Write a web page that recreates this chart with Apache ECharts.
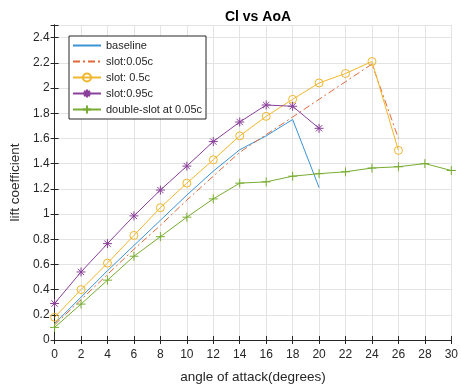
<!DOCTYPE html>
<html><head><meta charset="utf-8">
<script src="https://cdn.jsdelivr.net/npm/echarts@6/dist/echarts.min.js"></script>
<style>html,body{margin:0;padding:0;background:#fff}#c{width:461px;height:389px}</style>
</head><body><div id="c"></div>
<script>
const angles = [0,2,4,6,8,10,12,14,16,18,20,22,24,26,28,30];
const xTicks = [0,2,4,6,8,10,12,14,16,18,20,22,24,26,28,30];
const yTicks = [0,0.2,0.4,0.6,0.8,1,1.2,1.4,1.6,1.8,2,2.2,2.4];
const baseline = [0.13,0.34,0.55,0.75,0.95,1.15,1.34,1.51,1.62,1.75,1.21];
const slot005 = [0.12,0.32,0.52,0.72,0.91,1.11,1.30,1.49,1.63,1.77,1.91,2.05,2.19,1.60];
const slot05 = [0.18,0.40,0.61,0.83,1.05,1.245,1.43,1.62,1.775,1.91,2.04,2.115,2.21,1.505];
const slot095 = [0.29,0.54,0.765,0.985,1.19,1.38,1.575,1.73,1.865,1.855,1.68];
const doubleSlot = [0.10,0.285,0.475,0.665,0.82,0.975,1.12,1.245,1.255,1.30,1.32,1.335,1.365,1.375,1.40,1.345];
const names = ['baseline','slot:0.05c','slot: 0.5c','slot:0.95c','double-slot at 0.05c'];

function pairs(vals){ return vals.map((v,i)=>[angles[i],v]); }
const FONT = '"Liberation Sans", Arial, sans-serif';
const AX = '#262626';
const PLUS = 'path://M0,-5L0,5M-5,0L5,0';
const STAR = 'path://M0,-5L0,5M-5,0L5,0M-3.5,-3.5L3.5,3.5M-3.5,3.5L3.5,-3.5';
const CLEAR = 'rgba(0,0,0,0)';

function mk(name, data, color, extra){
  return Object.assign({
    name, type:'line', data:pairs(data), xAxisIndex:0, yAxisIndex:0,
    symbol:'circle', showSymbol:false, animation:false,
    lineStyle:{color, width:1},
    itemStyle:{color:CLEAR, borderColor:CLEAR, borderWidth:0},
    emphasis:{disabled:true}
  }, extra||{});
}

const chart = echarts.init(document.getElementById('c'));
const axisCommon = {
  type:'value', min:0,
  axisLine:{show:true, lineStyle:{color:AX, width:1}},
  axisTick:{show:true, inside:true, length:4, lineStyle:{color:AX}},
  axisLabel:{color:AX, fontFamily:FONT, fontSize:12},
  nameTextStyle:{color:AX, fontFamily:FONT, fontSize:13.5}
};
chart.setOption({
  animation:false,
  backgroundColor:'#fff',
  title:{text:'Cl vs AoA', left:253, top:5, textAlign:'center',
    textStyle:{fontFamily:FONT, fontSize:14, fontWeight:'bold', color:'#000'}},
  grid:{left:52, right:6, top:25, bottom:45},
  legend:{
    orient:'vertical', left:69, top:36,
    data:names,
    backgroundColor:'#fff', borderColor:AX, borderWidth:1,
    padding:[4,4,4,3], itemGap:5, itemWidth:28, itemHeight:10,
    textStyle:{fontFamily:FONT, fontSize:11, color:AX}
  },
  xAxis:[
    Object.assign({}, axisCommon, {max:30, interval:2, position:'bottom',
      name:'angle of attack(degrees)', nameLocation:'middle', nameGap:30,
      axisLabel:Object.assign({}, axisCommon.axisLabel, {margin:9}),
      splitLine:{show:true, lineStyle:{color:'#e3e3e3', width:1}}}),
    Object.assign({}, axisCommon, {max:30, interval:2, position:'top',
      axisLabel:{show:false}, splitLine:{show:false}})
  ],
  yAxis:[
    Object.assign({}, axisCommon, {max:2.5, interval:0.2, position:'left',
      name:'lift coefficient', nameLocation:'middle', nameGap:19,
      axisLabel:Object.assign({}, axisCommon.axisLabel, {margin:5,
        formatter:v=> (Math.abs(v-2.5)<1e-6 ? '' : String(Math.round(v*10)/10))}),
      splitLine:{show:true, lineStyle:{color:'#e3e3e3', width:1}}}),
    Object.assign({}, axisCommon, {max:2.5, interval:0.2, position:'right',
      axisLabel:{show:false}, splitLine:{show:false}})
  ],
  series:[
    mk(names[0], baseline, '#3a93d4'),
    mk(names[1], slot005, '#e0683a', {lineStyle:{color:'#e0683a', width:1, type:[7,3,2,3]}}),
    mk(names[2], slot05, '#f0b62c', {symbol:'circle', symbolSize:8, showSymbol:true,
      itemStyle:{color:CLEAR, borderColor:'#f0b62c', borderWidth:1}}),
    mk(names[3], slot095, '#8a3f9a', {symbol:STAR, symbolSize:9, showSymbol:true,
      itemStyle:{color:CLEAR, borderColor:'#8a3f9a', borderWidth:1}}),
    mk(names[4], doubleSlot, '#77ac30', {symbol:PLUS, symbolSize:9, showSymbol:true,
      itemStyle:{color:CLEAR, borderColor:'#77ac30', borderWidth:1}})
  ]
});
</script></body></html>
